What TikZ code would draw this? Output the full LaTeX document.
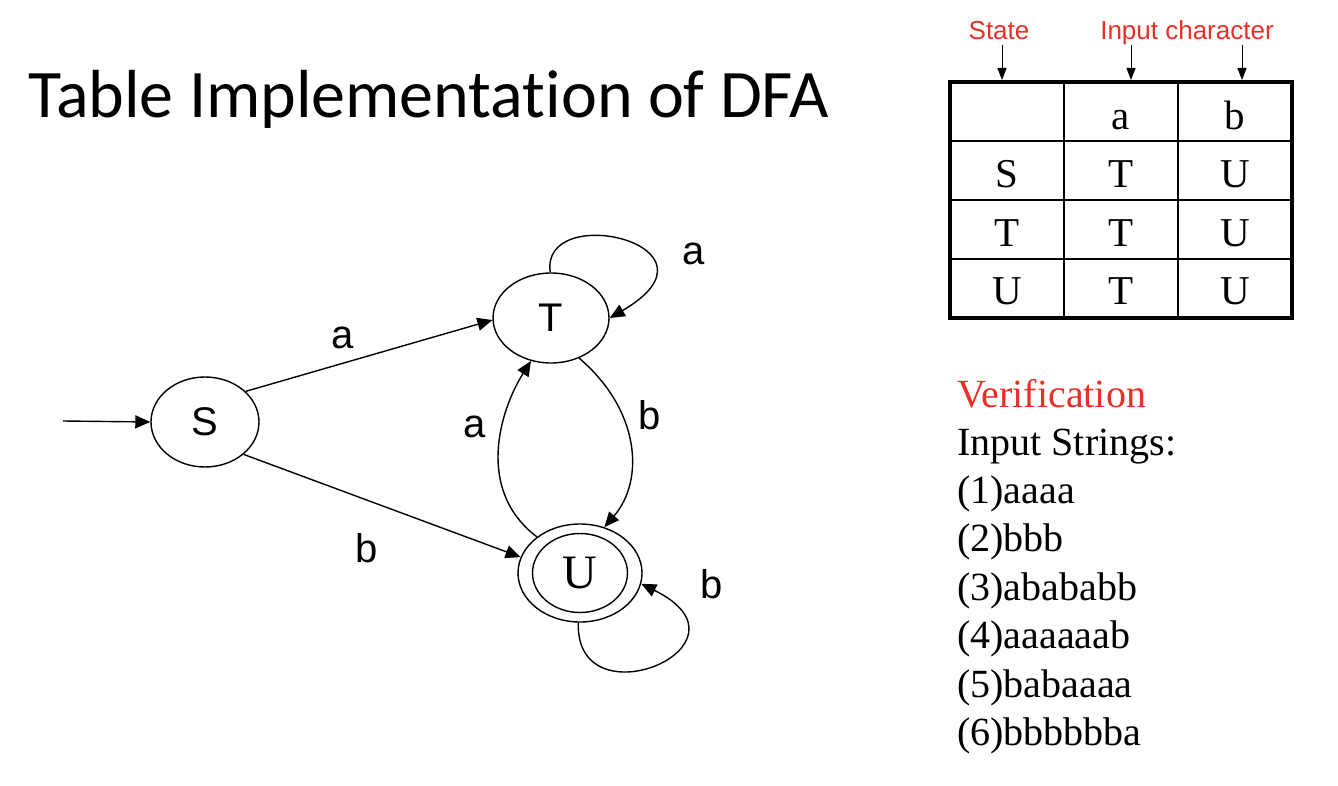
\documentclass[tikz,border=0pt]{standalone}
\usepackage{fontspec}
\setmainfont{Liberation Serif}
\newfontfamily\arialf{Liberation Sans}
\newfontfamily\calib[Ligatures=NoCommon]{Carlito}
\usetikzlibrary{shapes.geometric,arrows.meta}
\definecolor{pptred}{RGB}{232,48,40}
\begin{document}
\begin{tikzpicture}[x=1pt,y=-1pt,
  state/.style={draw,ellipse,line width=1.4pt,inner sep=0pt},
  edge/.style={line width=1.4pt,-{Triangle[length=15pt,width=13pt]}},
  lab/.style={font=\arialf\fontsize{40}{40}\selectfont,inner sep=0pt},
  cell/.style={font=\fontsize{41}{41}\selectfont,anchor=base,inner sep=0pt},
  redlab/.style={font=\arialf\fontsize{26}{26}\selectfont,text=pptred,anchor=base,inner sep=0pt},
  vline/.style={font=\fontsize{40}{40}\selectfont,anchor=base west,inner sep=0pt},
  tarrow/.style={line width=1pt,-{Triangle[length=12pt,width=9pt]}},
  ]
\useasboundingbox (0,0) rectangle (1338,786);
\fill[white] (0,0) rectangle (1338,786);

% title
\node[anchor=base west,inner sep=0pt,font=\calib\fontsize{68}{68}\selectfont] (title) at (28,118) {Table Implementation of DFA};

% DFA states
\node[state,minimum width=108pt,minimum height=90pt,font=\arialf\fontsize{40}{40}\selectfont] (S) at (205,422) {S};
\node[state,minimum width=116pt,minimum height=90pt,font=\arialf\fontsize{40}{40}\selectfont] (T) at (551,318) {T};
\node[state,minimum width=124pt,minimum height=98pt,font=\fontsize{48}{48}\selectfont] (U) at (580,573) {U};
\node[state,minimum width=95pt,minimum height=79pt] (Uin) at (U.center) {};
\coordinate (start) at (63,421);

% edges
\draw[edge] (start) -- (S.west);
\draw[edge] (S.37) -- (T.182);
\draw[edge] (S.-40) -- (U.165);
\draw[edge] (T.91) .. controls (540,200) and (735,245) .. (T.0);
\draw[edge] (U.268) .. controls (575,725) and (765,645) .. (U.-10);
\draw[edge] (U.140) .. controls (475,490) and (500,410) .. (T.-115);
\draw[edge] (T.-55) .. controls (640,410) and (645,480) .. (U.62);

% edge labels
\node[lab] (l1) at (343,338) {a};
\node[lab] (l2) at (367,548) {b};
\node[lab] (l3) at (694,254) {a};
\node[lab] (l4) at (475,427) {a};
\node[lab] (l5) at (650,415) {b};
\node[lab] (l6) at (712,584) {b};

% table
\draw[line width=1.5pt] (1064,82) -- (1064,318) (1178,82) -- (1178,318)
  (950,141) -- (1292,141) (950,200) -- (1292,200) (950,259) -- (1292,259);
\draw[line width=4pt] (950,82) rectangle (1292,318);
\node[cell] (ha) at (1121,130) {a};
\node[cell] (hb) at (1235,130) {b};
\node[cell] (r1c0) at (1007,188) {S};
\node[cell] (r1c1) at (1121,188) {T};
\node[cell] (r1c2) at (1235,188) {U};
\node[cell] (r2c0) at (1007,247) {T};
\node[cell] (r2c1) at (1121,247) {T};
\node[cell] (r2c2) at (1235,247) {U};
\node[cell] (r3c0) at (1007,305) {U};
\node[cell] (r3c1) at (1121,305) {T};
\node[cell] (r3c2) at (1235,305) {U};

% header labels
\node[redlab] (state) at (999,40) {State};
\node[redlab] (inch) at (1187,40) {Input character};
\coordinate (a1s) at (1002,45); \coordinate (a1e) at (1002,80);
\coordinate (a2s) at (1131,45); \coordinate (a2e) at (1131,80);
\coordinate (a3s) at (1242,45); \coordinate (a3e) at (1242,80);
\draw[tarrow] (a1s) -- (a1e);
\draw[tarrow] (a2s) -- (a2e);
\draw[tarrow] (a3s) -- (a3e);

% verification
\node[vline,text=pptred] (v0) at (957,407) {Verification};
\node[vline] (v1) at (957,455) {Input Strings:};
\node[vline] (v2) at (957,503) {(1)aaaa};
\node[vline] (v3) at (957,551) {(2)bbb};
\node[vline] (v4) at (957,600) {(3)abababb};
\node[vline] (v5) at (957,648) {(4)aaaaaab};
\node[vline] (v6) at (957,697) {(5)babaaaa};
\node[vline] (v7) at (957,745) {(6)bbbbbba};
\end{tikzpicture}
\end{document}
